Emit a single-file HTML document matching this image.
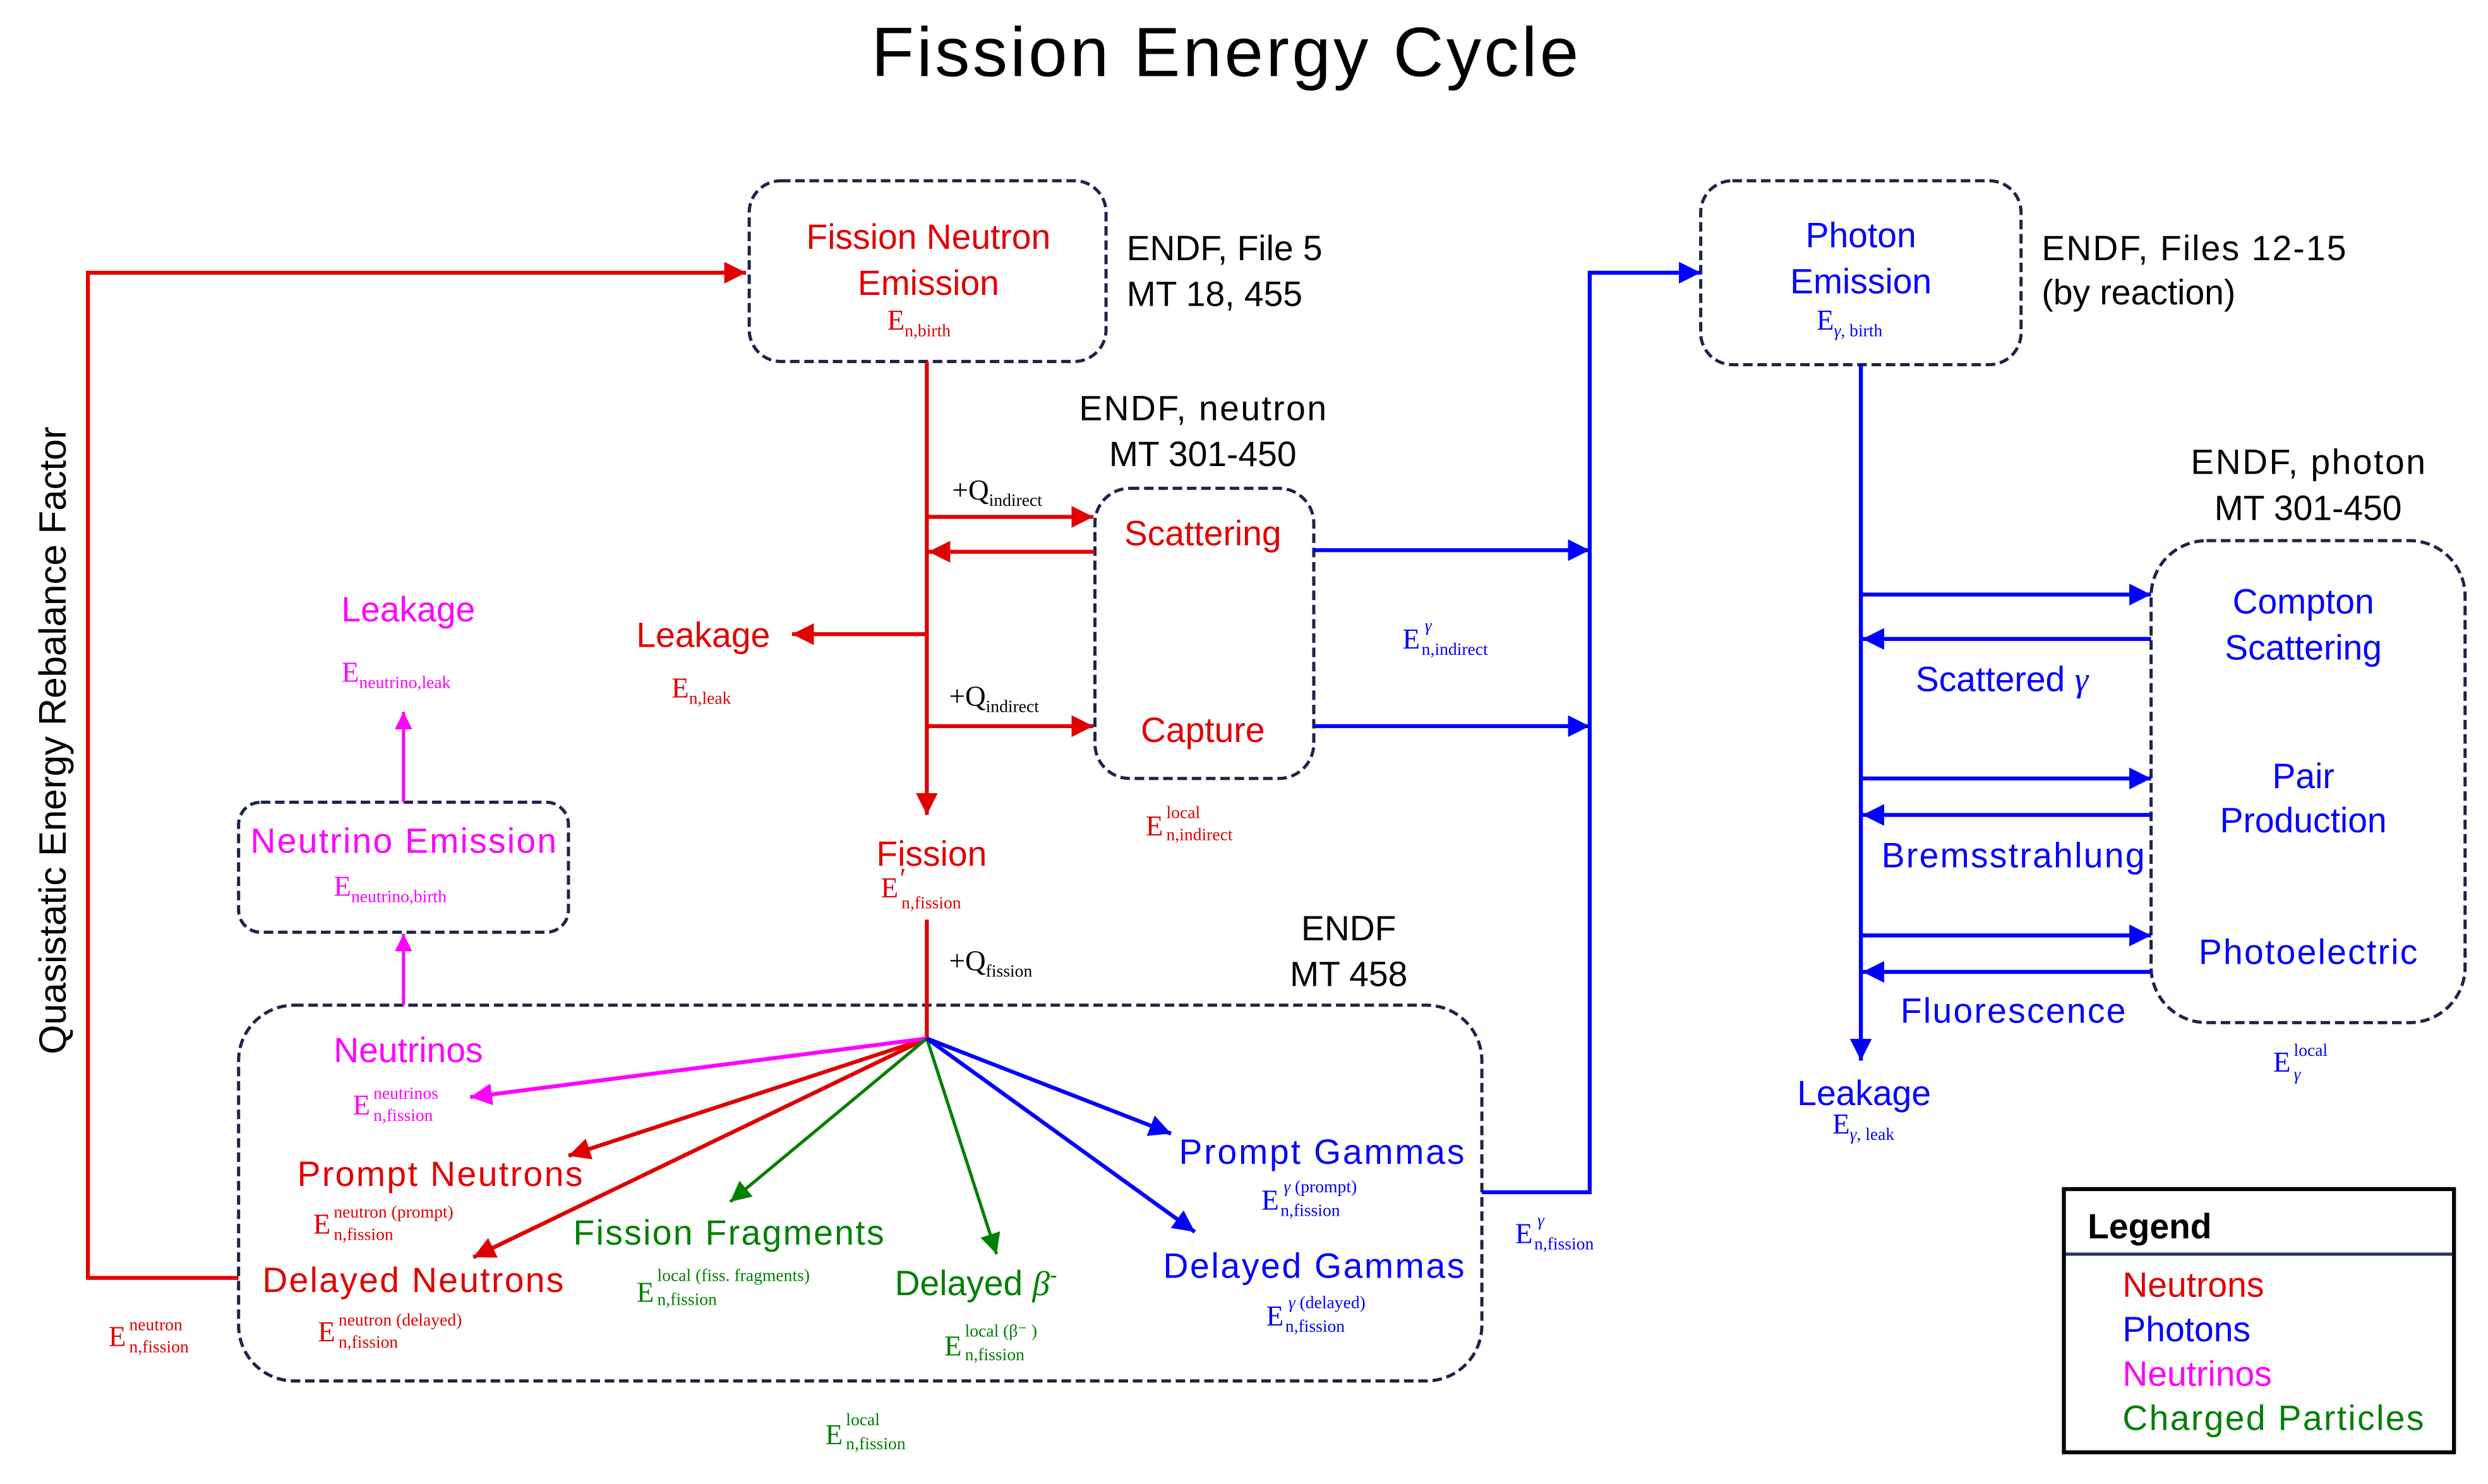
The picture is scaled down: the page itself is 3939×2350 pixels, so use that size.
<!DOCTYPE html>
<html><head><meta charset="utf-8"><style>
html,body{margin:0;padding:0;background:#fff;}
svg{display:block;}
.s{font-family:"Liberation Sans",sans-serif;}
.t{font-family:"Liberation Serif",serif;}
</style></head><body>
<svg width="3939" height="2350" viewBox="0 0 1568 936" xmlns="http://www.w3.org/2000/svg">
<defs>
<marker id="ar" viewBox="0 0 10 10" refX="10" refY="5" markerWidth="5.5" markerHeight="5.5" orient="auto-start-reverse" markerUnits="strokeWidth"><path d="M0,0L10,5L0,10z" fill="#e00000"/></marker>
<marker id="ab" viewBox="0 0 10 10" refX="10" refY="5" markerWidth="5.5" markerHeight="5.5" orient="auto-start-reverse" markerUnits="strokeWidth"><path d="M0,0L10,5L0,10z" fill="#0000ff"/></marker>
<marker id="am" viewBox="0 0 10 10" refX="10" refY="5" markerWidth="5.5" markerHeight="5.5" orient="auto-start-reverse" markerUnits="strokeWidth"><path d="M0,0L10,5L0,10z" fill="#ff00ff"/></marker>
<marker id="ag" viewBox="0 0 10 10" refX="10" refY="5" markerWidth="6.5" markerHeight="6.5" orient="auto-start-reverse" markerUnits="strokeWidth"><path d="M0,0L10,5L0,10z" fill="#008000"/></marker>
</defs>
<rect width="1568" height="936" fill="#fff"/>
<text class="s" x="772" y="48" font-size="44" text-anchor="middle" textLength="446">Fission Energy Cycle</text>

<g fill="none" stroke="#1c2448" stroke-width="2" stroke-dasharray="6,3">
<rect x="472" y="114" width="225" height="114" rx="20"/>
<rect x="690" y="308" width="138" height="183" rx="22"/>
<rect x="150" y="506" width="208" height="82" rx="14"/>
<rect x="150" y="634" width="784" height="237" rx="35"/>
<rect x="1072" y="114" width="202" height="116" rx="20"/>
<rect x="1356" y="341" width="198" height="304" rx="35"/>
</g>

<g stroke="#e00000" stroke-width="2.5" fill="none">
<path d="M150,806H55V172H470" marker-end="url(#ar)"/>
<path d="M584,228V514" marker-end="url(#ar)"/>
<path d="M584,326H689" marker-end="url(#ar)"/>
<path d="M690,348H585" marker-end="url(#ar)"/>
<path d="M584,400H499" marker-end="url(#ar)"/>
<path d="M584,458H689" marker-end="url(#ar)"/>
<path d="M584,580V655"/>
<path d="M584,655L358,729" marker-end="url(#ar)"/>
<path d="M584,655L298,793" marker-end="url(#ar)"/>
</g>
<path d="M584,655L296,692" stroke="#ff00ff" stroke-width="2.5" marker-end="url(#am)"/>
<path d="M254,634V589" stroke="#ff00ff" stroke-width="2" marker-end="url(#am)"/>
<path d="M254,506V449" stroke="#ff00ff" stroke-width="2" marker-end="url(#am)"/>
<path d="M584,655L460,758" stroke="#008000" stroke-width="2" marker-end="url(#ag)"/>
<path d="M584,655L628,791" stroke="#008000" stroke-width="2" marker-end="url(#ag)"/>
<g stroke="#0000ff" stroke-width="2.5" fill="none">
<path d="M584,655L738,715" marker-end="url(#ab)"/>
<path d="M584,655L753,777" marker-end="url(#ab)"/>
<path d="M828,347H1002" marker-end="url(#ab)"/>
<path d="M828,458H1002" marker-end="url(#ab)"/>
<path d="M934,752H1002V172H1072" marker-end="url(#ab)"/>
<path d="M1173,230V669" marker-end="url(#ab)"/>
<path d="M1173,375H1356" marker-end="url(#ab)"/>
<path d="M1356,403H1174" marker-end="url(#ab)"/>
<path d="M1173,491H1356" marker-end="url(#ab)"/>
<path d="M1356,514H1174" marker-end="url(#ab)"/>
<path d="M1173,590H1356" marker-end="url(#ab)"/>
<path d="M1356,613H1174" marker-end="url(#ab)"/>
</g>

<g class="s" font-size="22" text-anchor="middle">
<g fill="#e00000">
<text x="585" y="157">Fission Neutron</text>
<text x="585" y="186">Emission</text>
<text x="758" y="344">Scattering</text>
<text x="758" y="468">Capture</text>
<text x="443" y="408">Leakage</text>
<text x="587" y="546">Fission</text>
<text x="277" y="748" textLength="180">Prompt Neutrons</text>
<text x="260" y="815" textLength="190">Delayed Neutrons</text>
</g>
<g fill="#ff00ff">
<text x="257" y="392">Leakage</text>
<text x="254" y="538" textLength="193">Neutrino Emission</text>
<text x="257" y="670">Neutrinos</text>
</g>
<g fill="#008000">
<text x="459" y="785" textLength="196">Fission Fragments</text>
<text x="615" y="817">Delayed <tspan class="t" font-style="italic">β</tspan><tspan font-size="14" dy="-8">-</tspan></text>
</g>
<g fill="#0000ff">
<text x="833" y="734" textLength="180">Prompt Gammas</text>
<text x="828" y="806" textLength="190">Delayed Gammas</text>
<text x="1173" y="156">Photon</text>
<text x="1173" y="185">Emission</text>
<text x="1452" y="387">Compton</text>
<text x="1452" y="416">Scattering</text>
<text x="1452" y="497">Pair</text>
<text x="1452" y="525">Production</text>
<text x="1455" y="608" textLength="138">Photoelectric</text>
<text x="1262" y="436">Scattered <tspan class="t" font-style="italic">γ</tspan></text>
<text x="1269" y="547" textLength="166">Bremsstrahlung</text>
<text x="1269" y="645" textLength="142">Fluorescence</text>
<text x="1175" y="697">Leakage</text>
</g>
<g fill="#000">
<text x="758" y="265" textLength="156">ENDF, neutron</text>
<text x="758" y="294">MT 301-450</text>
<text x="850" y="593">ENDF</text>
<text x="850" y="622">MT 458</text>
<text x="1455" y="299" textLength="148">ENDF, photon</text>
<text x="1455" y="328">MT 301-450</text>
</g>
</g>
<g class="s" font-size="22" fill="#000">
<text x="710" y="164">ENDF, File 5</text>
<text x="710" y="193">MT 18, 455</text>
<text x="1287" y="164" textLength="192">ENDF, Files 12-15</text>
<text x="1287" y="192">(by reaction)</text>
</g>
<text class="s" font-size="24" x="0" y="0" text-anchor="middle" transform="translate(41,467) rotate(-90)" textLength="396">Quasistatic Energy Rebalance Factor</text>

<g class="t" font-size="18">
<g fill="#e00000">
<text x="559" y="208">E<tspan font-size="11" dy="4">n,birth</tspan></text>
<text x="423" y="440">E<tspan font-size="11" dy="4">n,leak</tspan></text>
<text x="555" y="566">E</text><text x="567" y="560" font-size="18">′</text><text x="568" y="573" font-size="11">n,fission</text>
<text x="722" y="527">E</text><text x="735" y="516" font-size="11">local</text><text x="735" y="530" font-size="11">n,indirect</text>
<text x="197" y="778">E</text><text x="210" y="768" font-size="11">neutron (prompt)</text><text x="210" y="782" font-size="11">n,fission</text>
<text x="200" y="846">E</text><text x="213" y="836" font-size="11">neutron (delayed)</text><text x="213" y="850" font-size="11">n,fission</text>
<text x="68" y="849">E</text><text x="81" y="839" font-size="11">neutron</text><text x="81" y="853" font-size="11">n,fission</text>
</g>
<g fill="#000">
<text x="600" y="315">+Q<tspan font-size="11" dy="4">indirect</tspan></text>
<text x="598" y="445">+Q<tspan font-size="11" dy="4">indirect</tspan></text>
<text x="598" y="612">+Q<tspan font-size="11" dy="4">fission</tspan></text>
</g>
<g fill="#ff00ff">
<text x="215" y="430">E<tspan font-size="11" dy="4">neutrino,leak</tspan></text>
<text x="210" y="565">E<tspan font-size="11" dy="4">neutrino,birth</tspan></text>
<text x="222" y="703">E</text><text x="235" y="693" font-size="11">neutrinos</text><text x="235" y="707" font-size="11">n,fission</text>
</g>
<g fill="#008000">
<text x="401" y="821">E</text><text x="414" y="808" font-size="11">local (fiss. fragments)</text><text x="414" y="823" font-size="11">n,fission</text>
<text x="595" y="855">E</text><text x="608" y="843" font-size="11">local (β⁻ )</text><text x="608" y="858" font-size="11">n,fission</text>
<text x="520" y="911">E</text><text x="533" y="899" font-size="11">local</text><text x="533" y="914" font-size="11">n,fission</text>
</g>
<g fill="#0000ff">
<text x="884" y="409">E</text><text x="898" y="398" font-size="11" font-style="italic">γ</text><text x="896" y="413" font-size="11">n,indirect</text>
<text x="955" y="784">E</text><text x="969" y="773" font-size="11" font-style="italic">γ</text><text x="967" y="788" font-size="11">n,fission</text>
<text x="795" y="763">E</text><text x="809" y="752" font-size="11"><tspan font-style="italic">γ</tspan> (prompt)</text><text x="807" y="767" font-size="11">n,fission</text>
<text x="798" y="836">E</text><text x="812" y="825" font-size="11"><tspan font-style="italic">γ</tspan> (delayed)</text><text x="810" y="840" font-size="11">n,fission</text>
<text x="1145" y="208">E<tspan font-size="11" dy="4"><tspan font-style="italic">γ</tspan>, birth</tspan></text>
<text x="1155" y="715">E<tspan font-size="11" dy="4"><tspan font-style="italic">γ</tspan>, leak</tspan></text>
<text x="1433" y="676">E</text><text x="1446" y="666" font-size="11">local</text><text x="1446" y="681" font-size="11" font-style="italic">γ</text>
</g>
</g>

<rect x="1301" y="750" width="246" height="166" fill="none" stroke="#000" stroke-width="2.5"/>
<line x1="1302" y1="791" x2="1546" y2="791" stroke="#2a3066" stroke-width="2"/>
<g class="s" font-size="22">
<text x="1316" y="781" font-weight="bold">Legend</text>
<text x="1338" y="818" fill="#e00000">Neutrons</text>
<text x="1338" y="846" fill="#0000ff">Photons</text>
<text x="1338" y="874" fill="#ff00ff">Neutrinos</text>
<text x="1338" y="902" fill="#008000" textLength="190">Charged Particles</text>
</g>
</svg>
</body></html>
